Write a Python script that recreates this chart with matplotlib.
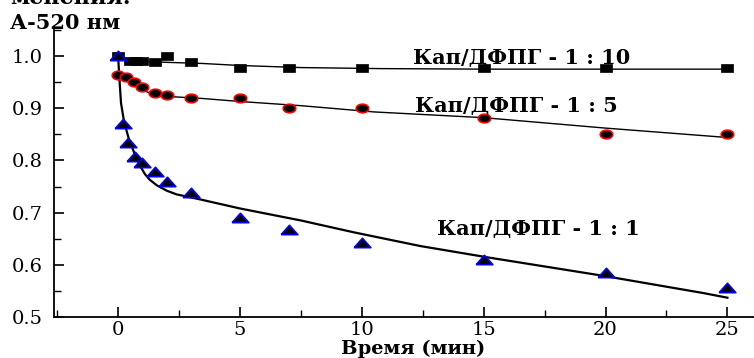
import numpy as np
import matplotlib.pyplot as plt
from matplotlib.ticker import MultipleLocator

plt.rcParams['font.family'] = ['DejaVu Serif']

# Кап/ДФПГ - 1 : 10 (квадраты)
t_10 = [0, 0.5, 0.75, 1.0, 1.5, 2, 3, 5, 7, 10, 15, 20, 25]
a_10 = [1.0, 0.99, 0.99, 0.99, 0.989, 1.0, 0.989, 0.977, 0.977, 0.977, 0.977, 0.977, 0.977]
# Кап/ДФПГ - 1 : 5 (кружки)
t_5 = [0, 0.33, 0.67, 1.0, 1.5, 2, 3, 5, 7, 10, 15, 20, 25]
a_5 = [0.963, 0.96, 0.95, 0.94, 0.929, 0.925, 0.92, 0.92, 0.90, 0.90, 0.881, 0.85, 0.85]
# Кап/ДФПГ - 1 : 1 (треугольники)
t_1 = [0, 0.2, 0.4, 0.7, 1.0, 1.5, 2, 3, 5, 7, 10, 15, 20, 25]
a_1 = [1.0, 0.87, 0.833, 0.806, 0.796, 0.777, 0.758, 0.738, 0.69, 0.667, 0.642, 0.609, 0.584, 0.556]

# аппроксимирующие кривые
fit_t_10 = [0, 0.4, 1.0, 2.0, 3.4, 5, 7.5, 10.8, 15, 20, 25]
fit_a_10 = [1.0, 0.993, 0.99, 0.988, 0.986, 0.982, 0.978, 0.976, 0.975, 0.975, 0.975]
fit_t_5 = [0, 0.5, 0.9, 1.3, 1.9, 3.4, 5, 7.5, 10.5, 15, 20, 25]
fit_a_5 = [0.965, 0.954, 0.938, 0.929, 0.923, 0.919, 0.913, 0.905, 0.893, 0.882, 0.862, 0.844]
fit_t_1 = [0, 0.05, 0.12, 0.25, 0.45, 0.7, 0.9, 1.1, 1.3, 1.6, 2.0, 2.4, 3.4, 5, 7.5, 9.7, 12.4, 15.2, 19.9, 24, 25]
fit_a_1 = [1.0, 0.96, 0.91, 0.873, 0.84, 0.81, 0.79, 0.774, 0.763, 0.752, 0.742, 0.735, 0.725, 0.708, 0.685, 0.662, 0.636, 0.614, 0.579, 0.546, 0.537]

labels = ['Кап/ДФПГ - 1 : 10', 'Кап/ДФПГ - 1 : 5', 'Кап/ДФПГ - 1 : 1']
label_pos = [(12.1, 0.996), (12.2, 0.904), (13.1, 0.669)]

# картинка растянута по горизонтали — маркеры тоже широкие
sq = [(-1.5, -1), (1.5, -1), (1.5, 1), (-1.5, 1), (-1.5, -1)]
ang = np.linspace(0, 2 * np.pi, 40)
ell = list(zip(1.45 * np.cos(ang), np.sin(ang)))
tri = [(-1.6, -0.8), (1.6, -0.8), (0, 1.0), (-1.6, -0.8)]

fig = plt.figure(figsize=(7.54, 3.58), dpi=100)
ax = fig.add_axes([0.0716, 0.1145, 0.93, 0.8017])

ax.plot(fit_t_10, fit_a_10, color='black', lw=1.0)
ax.plot(fit_t_5, fit_a_5, color='black', lw=1.0)
ax.plot(fit_t_1, fit_a_1, color='black', lw=1.6)

ax.plot(t_10, a_10, ls='none', marker=sq, ms=8, mfc='black', mec='black', mew=0.5)
ax.plot(t_5, a_5, ls='none', marker=ell, ms=9, mfc='black', mec='red', mew=1.2)
ax.plot(t_1, a_1, ls='none', marker=tri, ms=12, mfc='black', mec='blue', mew=1.2)

for s, (x, y) in zip(labels, label_pos):
    ax.text(x, y, s, fontsize=15, fontweight='bold', va='center', ha='left')

ax.set_xlim(-2.63, 26.14)
ax.set_ylim(0.5, 1.05)
ax.xaxis.set_major_locator(MultipleLocator(5))
ax.xaxis.set_minor_locator(MultipleLocator(2.5))
ax.yaxis.set_major_locator(MultipleLocator(0.1))
ax.yaxis.set_minor_locator(MultipleLocator(0.05))
ax.yaxis.set_major_formatter(plt.FormatStrFormatter('%.1f'))
ax.spines['top'].set_visible(False)
ax.spines['right'].set_visible(False)
ax.spines['left'].set_linewidth(1.3)
ax.spines['bottom'].set_linewidth(1.3)
ax.tick_params(which='major', direction='in', length=7, width=1.2, labelsize=14, pad=8)
ax.tick_params(which='minor', direction='in', length=5, width=1.0)
ax.tick_params(axis='x', which='major', pad=3)

ax.set_xlabel('Время (мин)', fontsize=14, fontweight='bold')
ax.xaxis.set_label_coords(0.512, -0.112)
ax.xaxis.label.set_va('center')

fig.text(0.013, 0.935, 'А-520 нм', fontsize=15, fontweight='bold', va='center')
fig.text(0.013, 1.005, 'менения.', fontsize=16, fontweight='bold', va='center', clip_on=False)

fig.savefig('out.png', dpi=100)
